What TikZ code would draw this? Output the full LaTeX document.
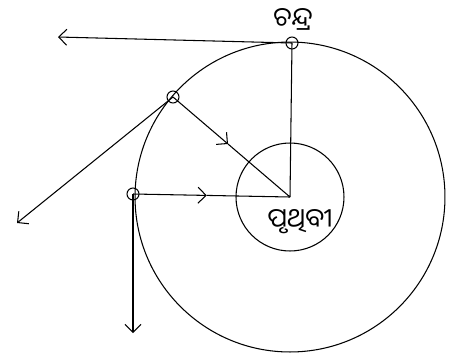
\documentclass[tikz,border=0pt]{standalone}
\usepackage{fontspec}
\usepackage{tikz}
\usetikzlibrary{arrows.meta, positioning, calc}
\newfontfamily\odiafont[Script=Oriya]{Noto Sans Oriya UI}
\tikzset{
  orbit/.style={draw=black, line width=0.6pt},
  moon/.style={circle, draw=black, line width=0.6pt, minimum size=0.24cm, inner sep=0pt},
  flow/.style={-{Straight Barb[length=1.6mm, width=3.2mm]}, line width=0.6pt},
  plain/.style={line width=0.6pt},
  lbl/.style={font=\odiafont\fontsize{15}{18}\selectfont, inner sep=0pt},
}
\begin{document}
\begin{tikzpicture}[x=0.02cm, y=-0.02cm]
  \useasboundingbox (0,0) rectangle (457,356);
  \coordinate (c) at (290,197);
  \draw[orbit] (c) circle[radius=3.1cm];
  \draw[orbit] (c) circle[radius=1.08cm];

  \node[moon] (m1) at (292,43) {};
  \node[moon] (m2) at (173,97) {};
  \node[moon] (m3) at (133,194) {};

  \coordinate (t1) at (58,37);
  \coordinate (t2) at (17,223);
  \coordinate (t3) at (133,333);
  \coordinate (h2) at ($(m2.center)!0.47!(c)$);
  \coordinate (h3) at ($(m3.center)!0.47!(c)$);

  % radial lines
  \draw[plain] (m1.center) -- (c);
  \draw[flow] (m2.center) -- (h2);
  \draw[plain] (h2) -- (c);
  \draw[flow] (m3.center) -- (h3);
  \draw[plain] (h3) -- (c);

  % tangents
  \draw[flow] (m1.center) -- (t1);
  \draw[flow] (m2.center) -- (t2);
  \draw[flow] (m3.center) -- (t3);

  \node[lbl] (moonlbl) at (293,19) {ଚନ୍ଦ୍ର};
  \node[lbl] (earthlbl) at (300,222) {ପୃଥିବୀ};
\end{tikzpicture}
\end{document}
